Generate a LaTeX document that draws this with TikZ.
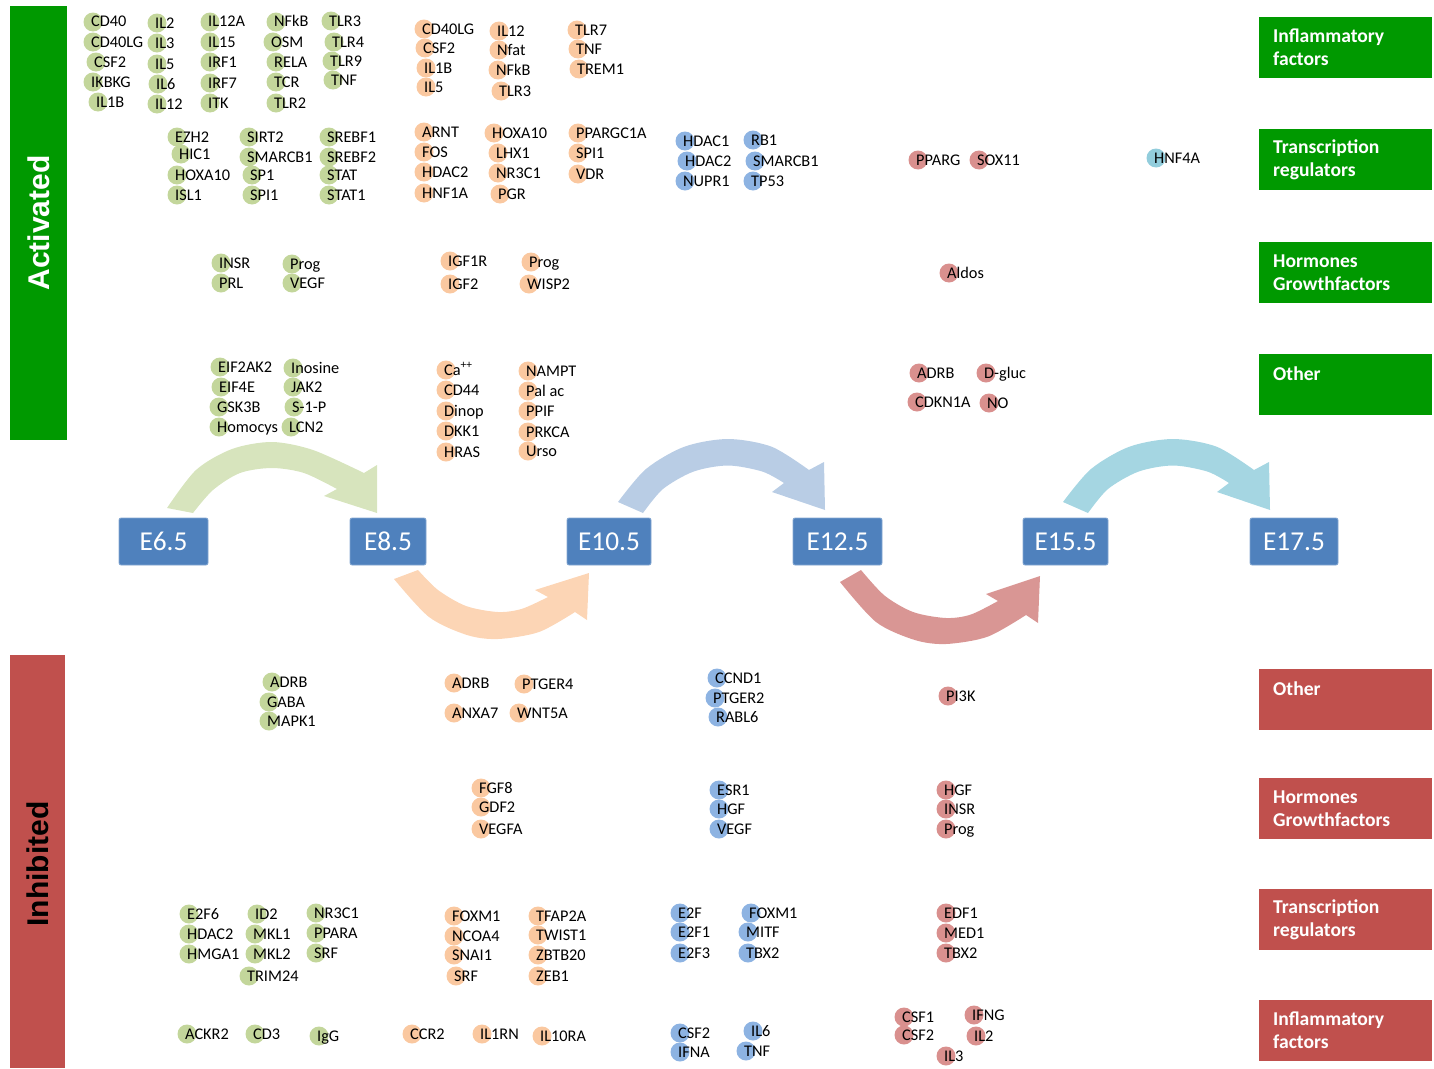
\documentclass[tikz,border=0pt]{standalone}
\usepackage{fontspec}
\setmainfont{Carlito}
\newfontfamily\arialfont{Liberation Sans}
\definecolor{actgreen}{HTML}{009900}
\definecolor{inhred}{HTML}{C0504D}
\definecolor{stagec}{HTML}{4F81BD}
\definecolor{cg}{HTML}{C3D69B}
\definecolor{co}{HTML}{FAC8A0}
\definecolor{cb}{HTML}{8DB3E2}
\definecolor{cr}{HTML}{D9908E}
\definecolor{cc}{HTML}{92CDDC}
\definecolor{arg}{HTML}{D7E4BD}
\definecolor{aro}{HTML}{FCD5B5}
\definecolor{arb}{HTML}{B9CDE5}
\definecolor{arr}{HTML}{D99694}
\definecolor{arc}{HTML}{A5D6E2}
\tikzset{
  lab/.style={anchor=base west, inner sep=0pt, font=\fontsize{16.3}{19}\selectfont},
  stagebox/.style={fill=stagec, draw=stagec!70!white, line width=0.8pt, rounded corners=2pt, minimum height=47pt, inner sep=0pt, text=white, font=\fontsize{27.3}{31}\selectfont},
  catbox/.style={anchor=north west, minimum width=171pt, minimum height=61pt, text width=145pt, inner xsep=14pt, inner ysep=0pt, align=left, text=white, font=\bfseries\fontsize{19.6}{23}\selectfont},
  sidebar/.style={rotate=90, minimum height=57pt, inner sep=0pt, font=\arialfont\bfseries\fontsize{30}{36}\selectfont}
}
\newcommand\gene[5]{\fill[#1] (#3+1,#4) circle[radius=9.5pt]; \node[lab] (#2) at (#3-1,#4+5) {#5};}
\begin{document}
\begin{tikzpicture}[x=1pt,y=-1pt]
\useasboundingbox (0,0) rectangle (1434,1068);
% side bars
\node[sidebar, fill=actgreen, text=white, minimum width=434pt] (act) at (38.5,223) {Activated};
\node[sidebar, fill=inhred, minimum width=413pt, minimum height=55pt] (inh) at (37.5,861.5) {};
\node[sidebar, text=black] (inhtext) at (37.5,864) {Inhibited};
% category boxes
\node[catbox, fill=actgreen] (k1) at (1259,17) {Inflammatory\\factors};
\node[catbox, fill=actgreen] (k2) at (1259,129) {Transcription\\regulators};
\node[catbox, fill=actgreen] (k3) at (1259,242) {Hormones\\Growthfactors};
\node[catbox, fill=actgreen] (k4) at (1259,354) {Other\\\mbox{}};
\node[catbox, fill=inhred] (k5) at (1259,669) {Other\\\mbox{}};
\node[catbox, fill=inhred] (k6) at (1259,778) {Hormones\\Growthfactors};
\node[catbox, fill=inhred] (k7) at (1259,889) {Transcription\\regulators};
\node[catbox, fill=inhred] (k8) at (1259,1000) {Inflammatory\\factors};
% curved arrows
\fill[arg] plot[smooth] coordinates {(167,508) (196,470) (232,449) (272,442) (313,450) (364,473)} -- (377,465) -- (377,513) -- (324,496) -- plot[smooth] coordinates {(337,489) (304,473) (272,468) (240,473) (213,490) (193,513)} -- cycle;
\fill[arb] plot[smooth] coordinates {(618,502) (646,469) (684.4,446.7) (728,439) (771.6,446.7) (809,470)} -- (824,462) -- (825,510) -- (772,492) -- plot[smooth] coordinates {(784,483) (762.5,471.6) (728,465.5) (693.5,471.6) (663,489) (643,513)} -- cycle;
\fill[arc] plot[smooth] coordinates {(1063,502) (1091,469) (1129.4,446.7) (1173,439) (1216.6,446.7) (1254,470)} -- (1269,462) -- (1270,510) -- (1217,492) -- plot[smooth] coordinates {(1229,483) (1207.5,471.6) (1173,465.5) (1138.5,471.6) (1108,489) (1088,513)} -- cycle;
\fill[aro] plot[smooth] coordinates {(394,579) (429,617) (467,635) (498,639) (539,632) (575,612)} -- (587,620) -- (589,573) -- (535,590) -- plot[smooth] coordinates {(548,597) (522,608.8) (498,612) (466,606) (438,590) (418,570)} -- cycle;
\fill[arr] plot[smooth] coordinates {(840,582) (876,622) (914.5,639.9) (946,644) (987.6,636.7) (1026,615)} -- (1038,623) -- (1040,576) -- (986,594) -- plot[smooth] coordinates {(998,601) (970.7,614.6) (946,618) (913.3,612.1) (884.6,595.6) (861,570)} -- cycle;
% stages
\node[stagebox, minimum width=89pt] (s1) at (163.5,541.5) {E6.5};
\node[stagebox, minimum width=76pt] (s2) at (388,541.5) {E8.5};
\node[stagebox, minimum width=84pt] (s3) at (609,541.5) {E10.5};
\node[stagebox, minimum width=89pt] (s4) at (837.5,541.5) {E12.5};
\node[stagebox, minimum width=85pt] (s5) at (1065.5,541.5) {E15.5};
\node[stagebox, minimum width=88pt] (s6) at (1294,541.5) {E17.5};
% ===== Activated: inflammatory
\gene{cg}{a1}{92}{22}{CD40}
\gene{cg}{a2}{92}{42}{CD40LG}
\gene{cg}{a3}{95}{62}{CSF2}
\gene{cg}{a4}{92}{82}{IKBKG}
\gene{cg}{a5}{97}{102}{IL1B}
\gene{cg}{a6}{156}{23}{IL2}
\gene{cg}{a7}{156}{43}{IL3}
\gene{cg}{a8}{156}{64}{IL5}
\gene{cg}{a9}{157}{84}{IL6}
\gene{cg}{a10}{156}{104}{IL12}
\gene{cg}{a11}{209}{22}{IL12A}
\gene{cg}{a12}{209}{42}{IL15}
\gene{cg}{a13}{209}{62}{IRF1}
\gene{cg}{a14}{209}{83}{IRF7}
\gene{cg}{a15}{209}{103}{ITK}
\gene{cg}{a16}{275}{22}{NFkB}
\gene{cg}{a17}{272}{42}{OSM}
\gene{cg}{a18}{275}{62}{RELA}
\gene{cg}{a19}{275}{82}{TCR}
\gene{cg}{a20}{275}{103}{TLR2}
\gene{cg}{a21}{330}{21}{TLR3}
\gene{cg}{a22}{333}{42}{TLR4}
\gene{cg}{a23}{331}{61}{TLR9}
\gene{cg}{a24}{332}{80}{TNF}
\gene{co}{b1}{423}{29}{CD40LG}
\gene{co}{b2}{424}{48}{CSF2}
\gene{co}{b3}{425}{68}{IL1B}
\gene{co}{b4}{425}{87}{IL5}
\gene{co}{b5}{498}{31}{IL12}
\gene{co}{b6}{498}{50}{Nfat}
\gene{co}{b7}{497}{70}{NFkB}
\gene{co}{b8}{500}{91}{TLR3}
\gene{co}{b9}{576}{30}{TLR7}
\gene{co}{b10}{577}{49}{TNF}
\gene{co}{b11}{578}{69}{TREM1}
% Activated: transcription
\gene{cg}{c1}{176}{137}{EZH2}
\gene{cg}{c2}{180}{154}{HIC1}
\gene{cg}{c3}{176}{175}{HOXA10}
\gene{cg}{c4}{176}{195}{ISL1}
\gene{cg}{c5}{248}{137}{SIRT2}
\gene{cg}{c6}{248}{157}{SMARCB1}
\gene{cg}{c7}{251}{175}{SP1}
\gene{cg}{c8}{251}{195}{SPI1}
\gene{cg}{c9}{328}{137}{SREBF1}
\gene{cg}{c10}{328}{157}{SREBF2}
\gene{cg}{c11}{328}{175}{STAT}
\gene{cg}{c12}{328}{195}{STAT1}
\gene{co}{d1}{423}{132}{ARNT}
\gene{co}{d2}{423}{152}{FOS}
\gene{co}{d3}{423}{172}{HDAC2}
\gene{co}{d4}{423}{193}{HNF1A}
\gene{co}{d5}{493}{133}{HOXA10}
\gene{co}{d6}{497}{153}{LHX1}
\gene{co}{d7}{497}{173}{NR3C1}
\gene{co}{d8}{499}{194}{PGR}
\gene{co}{d9}{577}{133}{PPARGC1A}
\gene{co}{d10}{577}{153}{SPI1}
\gene{co}{d11}{577}{174}{VDR}
\gene{cb}{e1}{684}{141}{HDAC1}
\gene{cb}{e2}{686}{161}{HDAC2}
\gene{cb}{e3}{684}{181}{NUPR1}
\gene{cb}{e4}{752}{140}{RB1}
\gene{cb}{e5}{754}{161}{SMARCB1}
\gene{cb}{e6}{752}{181}{TP53}
\gene{cr}{e7}{917}{160}{PPARG}
\gene{cr}{e8}{978}{160}{SOX11}
\gene{cc}{e9}{1155}{158}{HNF4A}
% Activated: hormones
\gene{cg}{f1}{220}{263}{INSR}
\gene{cg}{f2}{220}{283}{PRL}
\gene{cg}{f3}{291}{264}{Prog}
\gene{cg}{f4}{291}{283}{VEGF}
\gene{co}{f5}{449}{261}{IGF1R}
\gene{co}{f6}{449}{284}{IGF2}
\gene{co}{f7}{530}{262}{Prog}
\gene{co}{f8}{528}{284}{WISP2}
\gene{cr}{f9}{948}{273}{Aldos}
% Activated: other
\gene{cg}{h1}{219}{367}{EIF2AK2}
\gene{cg}{h2}{220}{387}{EIF4E}
\gene{cg}{h3}{218}{407}{GSK3B}
\gene{cg}{h4}{218}{427}{Homocys}
\gene{cg}{h5}{292}{368}{Inosine}
\gene{cg}{h6}{292}{387}{JAK2}
\gene{cg}{h7}{293}{407}{S-1-P}
\gene{cg}{h8}{290}{427}{LCN2}
\gene{co}{i1}{445}{370}{Ca\textsuperscript{++}}
\gene{co}{i2}{445}{390}{CD44}
\gene{co}{i3}{445}{411}{Dinop}
\gene{co}{i4}{445}{431}{DKK1}
\gene{co}{i5}{445}{452}{HRAS}
\gene{co}{i6}{527}{371}{NAMPT}
\gene{co}{i7}{527}{391}{Pal ac}
\gene{co}{i8}{527}{411}{PPIF}
\gene{co}{i9}{527}{432}{PRKCA}
\gene{co}{i10}{527}{451}{Urso}
\gene{cr}{i11}{918}{373}{ADRB}
\gene{cr}{i12}{916}{402}{CDKN1A}
\gene{cr}{i13}{985}{373}{D-gluc}
\gene{cr}{i14}{988}{403}{NO}
% ===== Inhibited: other
\gene{cg}{j1}{271}{682}{ADRB}
\gene{cg}{j2}{268}{702}{GABA}
\gene{cg}{j3}{268}{721}{MAPK1}
\gene{co}{j4}{453}{683}{ADRB}
\gene{co}{j5}{453}{713}{ANXA7}
\gene{co}{j6}{523}{684}{PTGER4}
\gene{co}{j7}{518}{713}{WNT5A}
\gene{cb}{j8}{716}{678}{CCND1}
\gene{cb}{j9}{714}{698}{PTGER2}
\gene{cb}{j10}{717}{717}{RABL6}
\gene{cr}{j11}{947}{696}{PI3K}
% Inhibited: hormones
\gene{co}{m1}{480}{788}{FGF8}
\gene{co}{m2}{480}{807}{GDF2}
\gene{co}{m3}{480}{829}{VEGFA}
\gene{cb}{m4}{718}{790}{ESR1}
\gene{cb}{m5}{718}{809}{HGF}
\gene{cb}{m6}{718}{829}{VEGF}
\gene{cr}{m7}{945}{790}{HGF}
\gene{cr}{m8}{945}{809}{INSR}
\gene{cr}{m9}{945}{829}{Prog}
% Inhibited: transcription
\gene{cg}{n1}{188}{914}{E2F6}
\gene{cg}{n2}{188}{934}{HDAC2}
\gene{cg}{n3}{188}{954}{HMGA1}
\gene{cg}{n4}{256}{914}{ID2}
\gene{cg}{n5}{254}{934}{MKL1}
\gene{cg}{n6}{254}{954}{MKL2}
\gene{cg}{n7}{248}{976}{TRIM24}
\gene{cg}{n8}{315}{913}{NR3C1}
\gene{cg}{n9}{315}{933}{PPARA}
\gene{cg}{n10}{315}{953}{SRF}
\gene{co}{p1}{453}{916}{FOXM1}
\gene{co}{p2}{453}{936}{NCOA4}
\gene{co}{p3}{453}{955}{SNAI1}
\gene{co}{p4}{455}{976}{SRF}
\gene{co}{p5}{537}{916}{TFAP2A}
\gene{co}{p6}{537}{935}{TWIST1}
\gene{co}{p7}{537}{955}{ZBTB20}
\gene{co}{p8}{537}{976}{ZEB1}
\gene{cb}{q1}{679}{913}{E2F}
\gene{cb}{q2}{679}{932}{E2F1}
\gene{cb}{q3}{679}{953}{E2F3}
\gene{cb}{q4}{750}{913}{FOXM1}
\gene{cb}{q5}{747}{932}{MITF}
\gene{cb}{q6}{747}{953}{TBX2}
\gene{cr}{q7}{945}{913}{EDF1}
\gene{cr}{q8}{945}{933}{MED1}
\gene{cr}{q9}{945}{953}{TBX2}
% Inhibited: inflammatory
\gene{cg}{r1}{186}{1034}{ACKR2}
\gene{cg}{r2}{254}{1034}{CD3}
\gene{cg}{r3}{318}{1036}{IgG}
\gene{co}{r4}{411}{1034}{CCR2}
\gene{co}{r5}{481}{1034}{IL1RN}
\gene{co}{r6}{541}{1036}{IL10RA}
\gene{cb}{r7}{679}{1033}{CSF2}
\gene{cb}{r8}{679}{1052}{IFNA}
\gene{cb}{r9}{752}{1031}{IL6}
\gene{cb}{r10}{745}{1051}{TNF}
\gene{cr}{r11}{903}{1017}{CSF1}
\gene{cr}{r12}{903}{1035}{CSF2}
\gene{cr}{r13}{973}{1015}{IFNG}
\gene{cr}{r14}{975}{1036}{IL2}
\gene{cr}{r15}{945}{1056}{IL3}
\end{tikzpicture}
\end{document}
